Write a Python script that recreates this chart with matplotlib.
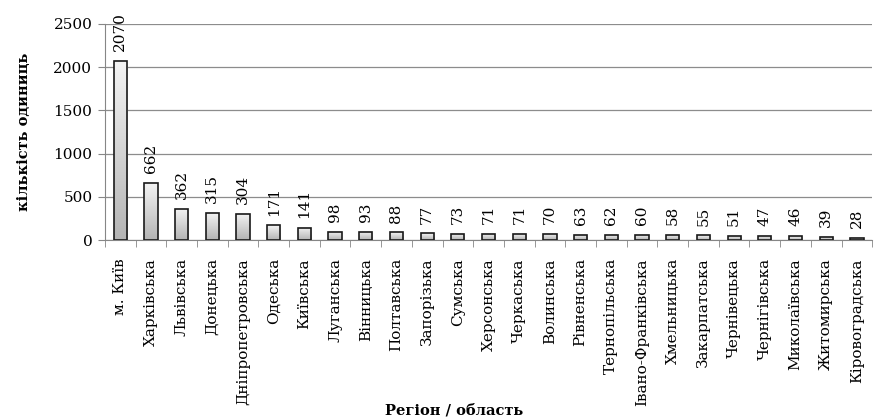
import numpy as np
import matplotlib
matplotlib.use("Agg")
import matplotlib.pyplot as plt
from matplotlib.colors import LinearSegmentedColormap

# %% data
regions = ['м. Київ', 'Харківська', 'Львівська', 'Донецька', 'Дніпропетровська',
           'Одеська', 'Київська', 'Луганська', 'Вінницька', 'Полтавська',
           'Запорізька', 'Сумська', 'Херсонська', 'Черкаська', 'Волинська',
           'Рівненська', 'Тернопільська', 'Івано-Франківська', 'Хмельницька',
           'Закарпатська', 'Чернівецька', 'Чернігівська', 'Миколаївська',
           'Житомирська', 'Кіровоградська']
counts = [2070, 662, 362, 315, 304, 171, 141, 98, 93, 88, 77, 73, 71, 71, 70,
          63, 62, 60, 58, 55, 51, 47, 46, 39, 28]
yticks = [0, 500, 1000, 1500, 2000, 2500]

plt.rcParams['font.family'] = ['DejaVu Serif']
plt.rcParams['font.size'] = 11

fig = plt.figure(figsize=(8.74, 4.19), dpi=100)
ax = fig.add_axes([0.120, 0.427, 0.878, 0.516])

x = np.arange(len(regions))
bar_w = 0.43
bars = ax.bar(x, counts, width=bar_w, color='none', edgecolor='#1a1a1a',
              linewidth=1.2, zorder=3)

# vertical gradient inside each bar: light top -> grey bottom
grad_cmap = LinearSegmentedColormap.from_list('g', ['#b4b4b4', '#f4f4f4'])
grad = np.linspace(0, 1, 256).reshape(-1, 1)
for b in bars:
    x0, w, h = b.get_x(), b.get_width(), b.get_height()
    ax.imshow(grad, cmap=grad_cmap, extent=[x0, x0 + w, 0, h], origin='lower',
              aspect='auto', zorder=2, interpolation='bicubic')

for xi, v in zip(x, counts):
    ax.annotate(str(v), (xi, v), xytext=(0, 7), textcoords='offset points',
                rotation=90, ha='center', va='bottom')

ax.set_xlim(-0.5, len(regions) - 0.5)
ax.set_ylim(0, 2500)
ax.set_yticks(yticks)
ax.yaxis.grid(True, color='#8c8c8c', linewidth=0.9, zorder=0)
ax.set_axisbelow(True)

ax.set_xticks(x)
ax.set_xticklabels(regions, rotation=90)
ax.set_xticks(np.arange(-0.5, len(regions), 1), minor=True)
ax.tick_params(axis='x', which='major', length=0, pad=13)
ax.tick_params(axis='x', which='minor', length=5, color='#868686')
ax.tick_params(axis='y', length=5, color='#868686', pad=4)

for side in ['top', 'right']:
    ax.spines[side].set_visible(False)
for side in ['left', 'bottom']:
    ax.spines[side].set_color('#868686')

ax.set_ylabel('кількість одиниць', fontweight='bold', fontsize=10.5, labelpad=16)
fig.text(0.52, 1 - 410 / 419, 'Регіон / область', fontweight='bold',
         fontsize=10.5, ha='center', va='center')

fig.savefig('out.png', dpi=100)
